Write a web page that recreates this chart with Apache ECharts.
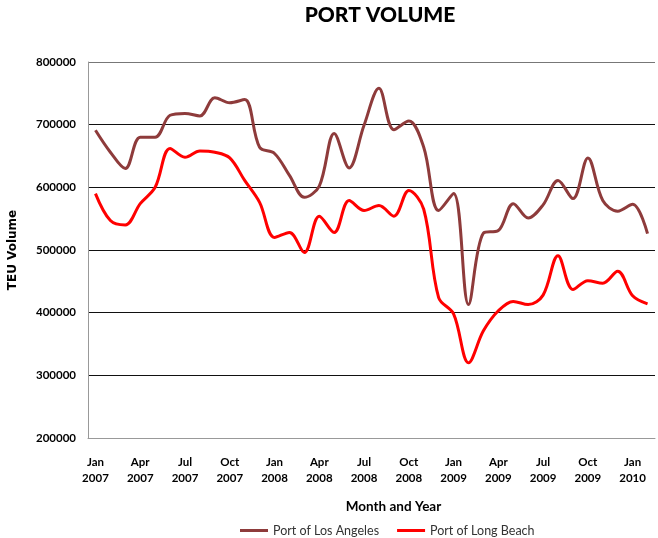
<!DOCTYPE html>
<html>
<head>
<meta charset="utf-8">
<script src="https://cdn.jsdelivr.net/npm/echarts@6/dist/echarts.min.js"></script>
<style>html,body{margin:0;padding:0;background:#fff}#c{width:658px;height:538px}</style>
</head>
<body>
<div id="c"></div>
<script>
const months = ['Jan','Feb','Mar','Apr','May','Jun','Jul','Aug','Sep','Oct','Nov','Dec'];
const categories = [];
for (let y = 2007; y <= 2010; y++) for (let m = 0; m < 12; m++) if (categories.length < 38) categories.push(months[m] + ' ' + y);
const losAngeles = [691000, 656000, 630000, 680000, 680000, 715000, 718000, 714000, 743000, 735000, 740000, 664000,
  654000, 619000, 584000, 602000, 686000, 631000, 699000, 758000, 692000, 706000, 664000, 563000,
  590000, 413000, 527000, 531000, 574000, 551000, 572000, 611000, 582000, 647000, 579000, 562000, 573000, 526000];
const longBeach = [590000, 547000, 540000, 574000, 600000, 662000, 648000, 658000, 656000, 647000, 611000, 576000,
  520000, 528000, 496000, 554000, 528000, 579000, 563000, 571000, 554000, 595000, 565000, 424000,
  398000, 320000, 371000, 403000, 418000, 413000, 428000, 491000, 437000, 451000, 447000, 466000, 427000, 414000];
const yTicks = [200000, 300000, 400000, 500000, 600000, 700000, 800000];

const FONT = 'Lato';
const chart = echarts.init(document.getElementById('c'));
chart.setOption({
  animation: false,
  title: {
    text: 'PORT VOLUME', left: 375, top: 0, textAlign: 'center',
    textStyle: { fontFamily: FONT, fontWeight: 900, fontSize: 21, color: '#000' }
  },
  legend: {
    bottom: -4, left: 235, itemGap: 18, itemWidth: 28, itemHeight: 3, icon: 'rect',
    textStyle: { fontFamily: FONT, fontSize: 12.5, color: '#333' },
    data: ['Port of Los Angeles', 'Port of Long Beach']
  },
  grid: { left: 88, right: 3, top: 62, bottom: 100, outerBoundsMode: 'none', containLabel: false },
  xAxis: {
    type: 'category', data: categories, boundaryGap: true,
    name: 'Month and Year', nameLocation: 'middle', nameGap: 62,
    nameTextStyle: { fontFamily: FONT, fontWeight: 'bold', fontSize: 13.5, color: '#000', padding: [0, 0, 0, 44] },
    axisLine: { lineStyle: { color: '#999', width: 1 } },
    axisTick: { show: false },
    axisLabel: {
      interval: 2, margin: 16, lineHeight: 16,
      fontFamily: FONT, fontWeight: 'bold', fontSize: 11.5, color: '#000',
      formatter: v => v.replace(' ', '\n')
    }
  },
  yAxis: {
    type: 'value', min: yTicks[0], max: yTicks[yTicks.length - 1], interval: 100000,
    name: 'TEU Volume', nameLocation: 'middle', nameGap: 69, nameRotate: 90,
    nameTextStyle: { fontFamily: 'DejaVu Sans', fontWeight: 'bold', fontSize: 12, color: '#000' },
    axisLine: { show: true, lineStyle: { color: '#999', width: 1 } },
    axisTick: { show: false },
    axisLabel: { margin: 12, fontFamily: FONT, fontWeight: 'bold', fontSize: 11.5, color: '#000', formatter: v => String(v) },
    splitLine: { show: true, lineStyle: { color: ['#999', '#111', '#111', '#111', '#111', '#111', '#777'], width: 1.2 } }
  },
  series: [
    {
      name: 'Port of Los Angeles', type: 'line', data: losAngeles, smooth: 0.35, symbol: 'none',
      lineStyle: { color: '#8E3B3B', width: 3 }, itemStyle: { color: '#8E3B3B' }
    },
    {
      name: 'Port of Long Beach', type: 'line', data: longBeach, smooth: 0.35, symbol: 'none',
      lineStyle: { color: '#FF0000', width: 3 }, itemStyle: { color: '#FF0000' }
    }
  ]
});
</script>
</body>
</html>
